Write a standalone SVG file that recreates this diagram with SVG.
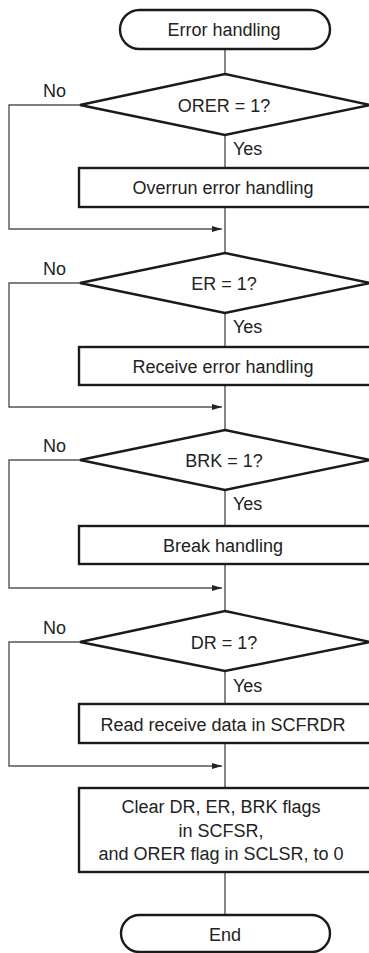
<svg xmlns="http://www.w3.org/2000/svg" width="369" height="953" viewBox="0 0 369 953">
<style>
.shape{fill:#fff;stroke:#1a1a1a;stroke-width:2.4}
.conn{fill:none;stroke:#555;stroke-width:1.4}
text{font-family:"Liberation Sans",Arial,sans-serif;font-size:18px;fill:#222}
.c{text-anchor:middle}
</style>
<defs>
<marker id="arr" markerWidth="10" markerHeight="6" refX="10" refY="3" orient="auto" markerUnits="userSpaceOnUse">
<path d="M0,0 L10,3 L0,6 z" fill="#222"/>
</marker>
</defs>
<g id="connectors">
<path class="conn" d="M225,49 V74"/>
<path class="conn" d="M225,135 V168"/>
<path class="conn" d="M225,207 V253"/>
<path class="conn" d="M225,313 V347"/>
<path class="conn" d="M225,385 V430"/>
<path class="conn" d="M225,490 V526"/>
<path class="conn" d="M225,564 V611"/>
<path class="conn" d="M225,671 V704"/>
<path class="conn" d="M225,743 V788"/>
<path class="conn" d="M225,872 V915"/>
<path class="conn" d="M80,105 H9 V229 H222" marker-end="url(#arr)"/>
<path class="conn" d="M80,283 H9 V407 H222" marker-end="url(#arr)"/>
<path class="conn" d="M80,460 H9 V588 H222" marker-end="url(#arr)"/>
<path class="conn" d="M80,642 H9 V766 H222" marker-end="url(#arr)"/>
<text x="43" y="97">No</text>
<text x="43" y="275">No</text>
<text x="43" y="452">No</text>
<text x="43" y="634">No</text>
<text x="233" y="155">Yes</text>
<text x="233" y="333">Yes</text>
<text x="233" y="510">Yes</text>
<text x="233" y="692">Yes</text>
</g>
<g id="start">
<rect class="shape" x="120" y="10" width="210" height="39" rx="19.5"/>
<text class="c" x="224" y="36">Error handling</text>
</g>
<g id="d1">
<polygon class="shape" points="225,74 370,105 225,135 80,105"/>
<text class="c" x="224" y="112">ORER = 1?</text>
</g>
<g id="b1">
<rect class="shape" x="79" y="168" width="292" height="39"/>
<text class="c" x="223" y="194">Overrun error handling</text>
</g>
<g id="d2">
<polygon class="shape" points="225,253 370,283 225,313 80,283"/>
<text class="c" x="224" y="290">ER = 1?</text>
</g>
<g id="b2">
<rect class="shape" x="79" y="347" width="292" height="38"/>
<text class="c" x="223" y="373">Receive error handling</text>
</g>
<g id="d3">
<polygon class="shape" points="225,430 370,460 225,490 80,460"/>
<text class="c" x="224" y="467">BRK = 1?</text>
</g>
<g id="b3">
<rect class="shape" x="79" y="526" width="292" height="38"/>
<text class="c" x="223" y="552">Break handling</text>
</g>
<g id="d4">
<polygon class="shape" points="225,611 370,642 225,671 80,642"/>
<text class="c" x="224" y="649">DR = 1?</text>
</g>
<g id="b4">
<rect class="shape" x="79" y="704" width="292" height="39"/>
<text class="c" x="223" y="731">Read receive data in SCFRDR</text>
</g>
<g id="b5">
<rect class="shape" x="79" y="788" width="292" height="84"/>
<text class="c" x="221" y="813">Clear DR, ER, BRK flags</text>
<text class="c" x="221" y="837">in SCFSR,</text>
<text class="c" x="221" y="860">and ORER flag in SCLSR, to 0</text>
</g>
<g id="end">
<rect class="shape" x="121" y="915" width="209" height="37" rx="18.5"/>
<text class="c" x="225" y="941">End</text>
</g>
</svg>
